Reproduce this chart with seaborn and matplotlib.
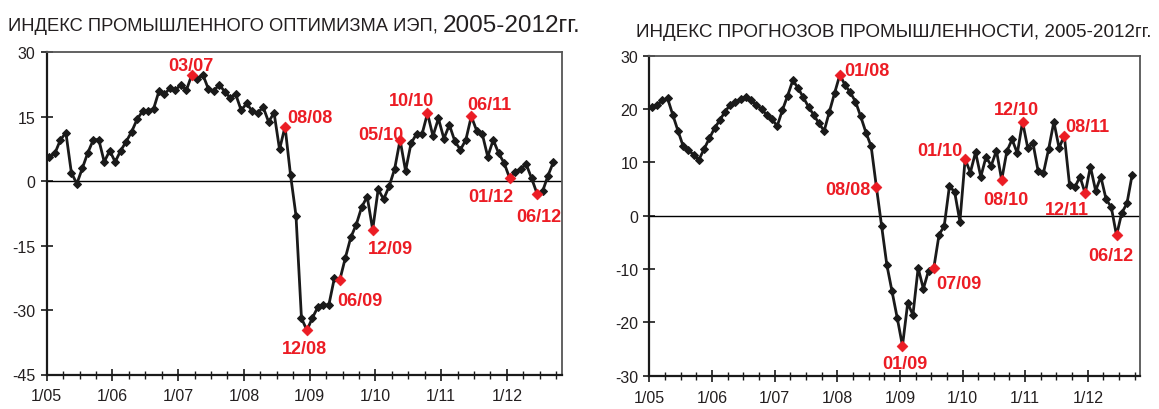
import numpy as np
import pandas as pd
import matplotlib
matplotlib.use('Agg')
import matplotlib.pyplot as plt
import seaborn as sns
from matplotlib.ticker import FixedLocator


# =========================
# Data (monthly, 1/05 .. 9/12)
# =========================

left_values = [
    5.6, 6.5, 9.6, 11.3, 2.0, -0.6, 3.0, 6.6, 9.6, 9.7,
    4.5, 7.1, 4.5, 7.1, 9.2, 11.5, 14.4, 16.3, 16.4, 16.8,
    21.0, 20.2, 21.7, 21.2, 22.5, 21.2, 24.8, 23.7, 24.8, 21.5,
    21.0, 22.5, 20.8, 19.4, 20.2, 16.5, 18.1, 16.3, 15.8, 17.3,
    13.8, 15.9, 7.4, 12.7, 1.5, -8.0, -31.9, -34.7, -31.8, -29.3,
    -28.8, -28.8, -22.6, -23.0, -17.9, -13.1, -10.1, -6.0, -3.6, -11.3,
    -1.9, -4.2, -1.2, 2.8, 9.6, 2.4, 8.8, 11.0, 10.9, 15.8,
    10.5, 14.6, 9.9, 13.1, 9.3, 7.3, 9.6, 15.1, 11.7, 11.0,
    5.7, 9.6, 6.5, 4.2, 0.7, 2.2, 2.8, 4.0, 0.7, -2.9,
    -2.4, 1.3, 4.5,
]

right_values = [
    20.3, 20.8, 21.6, 22.0, 18.9, 15.9, 13.0, 12.3, 11.4, 10.5,
    12.5, 14.5, 16.4, 17.9, 19.5, 20.8, 21.3, 21.9, 22.3, 21.6,
    20.8, 20.0, 18.9, 18.1, 16.8, 19.8, 22.5, 25.4, 23.9, 22.2,
    20.4, 18.9, 17.3, 15.9, 19.5, 23.0, 26.4, 24.5, 23.1, 21.4,
    18.6, 15.6, 13.0, 5.4, -1.9, -9.2, -14.2, -19.2, -24.4, -16.4,
    -18.6, -9.8, -13.7, -10.3, -9.8, -3.6, -1.9, 5.6, 4.4, -1.1,
    10.6, 8.1, 11.9, 7.3, 11.0, 9.4, 12.2, 6.7, 12.1, 14.3,
    11.7, 17.6, 12.7, 13.6, 8.3, 8.0, 12.5, 17.6, 12.7, 15.0,
    5.8, 5.3, 7.3, 4.2, 9.2, 4.7, 7.3, 3.1, 1.6, -3.7,
    0.5, 2.3, 7.7,
]

left_marks = ['03/07', '08/08', '12/08', '06/09', '12/09',
              '05/10', '10/10', '06/11', '01/12', '06/12']
right_marks = ['01/08', '08/08', '01/09', '07/09', '01/10',
               '08/10', '12/10', '08/11', '12/11', '06/12']

year_labels = ['1/05', '1/06', '1/07', '1/08', '1/09', '1/10', '1/11', '1/12']
left_yticks = [30, 15, 0, -15, -30, -45]
right_yticks = [30, 20, 10, 0, -10, -20, -30]

left_title = 'ИНДЕКС ПРОМЫШЛЕННОГО ОПТИМИЗМА ИЭП, '
left_title_years = '2005-2012гг.'
right_title = 'ИНДЕКС ПРОГНОЗОВ ПРОМЫШЛЕННОСТИ, 2005-2012гг.'

# label offsets from the marked point, in pixels (dx, dy up)
left_offsets = {
    '03/07': (-1, 11), '08/08': (25, 11), '12/08': (-3, -16),
    '06/09': (20, -19), '12/09': (18, -17), '05/10': (-19, 7),
    '10/10': (-16, 15), '06/11': (18, 14), '01/12': (-19, -16),
    '06/12': (2, -21),
}
right_offsets = {
    '01/08': (27, 6), '08/08': (-29, -1), '01/09': (2, -16),
    '07/09': (25, -14), '01/10': (-25, 11), '08/10': (4, -18),
    '12/10': (-6, 14), '08/11': (23, 11), '12/11': (-18, -14),
    '06/12': (-6, -18),
}

RED = '#EC1C24'
INK = '#1a1a1a'


def month_index(label):
    m, y = label.split('/')
    return (int(y) - 5) * 12 + int(m) - 1


# =========================
# Style / fonts
# =========================

sns.set_style('white')
plt.rcParams['font.family'] = ['Liberation Sans', 'DejaVu Sans']
plt.rcParams['axes.unicode_minus'] = False


def draw_panel(ax, values, marks, offsets, yticks):
    df = pd.DataFrame({'month': np.arange(len(values)), 'value': values})

    ax.axhline(0, color='black', lw=1.0, zorder=1)

    sns.lineplot(
        data=df, x='month', y='value', ax=ax,
        color=INK, lw=2.0, marker='D', markersize=3.8,
        markeredgecolor=INK, zorder=3
    )

    hl = df.loc[[month_index(m) for m in marks]]
    sns.scatterplot(
        data=hl, x='month', y='value', ax=ax,
        color=RED, marker='D', s=30, edgecolor=RED,
        linewidth=0.5, zorder=4
    )

    for m in marks:
        i = month_index(m)
        dx, dy = offsets[m]
        ax.annotate(
            m, xy=(i, values[i]), xytext=(dx, dy - 6.5),
            textcoords='offset pixels', ha='center', va='baseline',
            color=RED, fontsize=13, fontweight='bold', zorder=5
        )

    ax.set_xlim(-0.5, 93.5)
    ax.set_ylim(min(yticks), max(yticks))
    ax.set_yticks(yticks)

    ax.xaxis.set_major_locator(FixedLocator([k * 12 - 0.5 for k in range(8)]))
    ax.set_xticklabels(year_labels)
    ax.xaxis.set_minor_locator(
        FixedLocator([k * 3 - 0.5 for k in range(32) if k % 4])
    )

    ax.tick_params(axis='x', which='major', direction='inout', length=8,
                   width=1.2, color=INK, labelsize=11.5, labelcolor='#231f20',
                   pad=6, bottom=True)
    ax.tick_params(axis='x', which='minor', direction='inout', length=6,
                   width=1.0, color=INK, bottom=True)
    ax.tick_params(axis='y', direction='inout', length=8, width=1.2,
                   color=INK, labelsize=11.5, labelcolor='#231f20', pad=4,
                   left=True)

    ax.set_xlabel('')
    ax.set_ylabel('')

    for side in ['left', 'bottom']:
        ax.spines[side].set_color(INK)
        ax.spines[side].set_linewidth(1.6)
    for side in ['top', 'right']:
        ax.spines[side].set_color('#555555')
        ax.spines[side].set_linewidth(1.3)


# =========================
# Figure
# =========================

fig = plt.figure(figsize=(11.59, 4.10), dpi=100)

ax1 = fig.add_axes([46.7 / 1159, 1 - 375.5 / 410, 515 / 1159, 322.2 / 410])
ax2 = fig.add_axes([649.3 / 1159, 1 - 376.7 / 410, 490.7 / 1159, 320 / 410])

draw_panel(ax1, left_values, left_marks, left_offsets, left_yticks)
draw_panel(ax2, right_values, right_marks, right_offsets, right_yticks)

renderer = fig.canvas.get_renderer()

t1 = fig.text(8 / 1159, 1 - 31 / 410, left_title,
              fontsize=13.2, color='#231f20', va='baseline')
bb = t1.get_window_extent(renderer)
fig.text(bb.x1 / 1159, 1 - 32 / 410, left_title_years,
         fontsize=17.5, color='#231f20', va='baseline')

fig.text(636 / 1159, 1 - 37 / 410, right_title,
         fontsize=13.6, color='#231f20', va='baseline')

fig.savefig('out.png', dpi=100)
